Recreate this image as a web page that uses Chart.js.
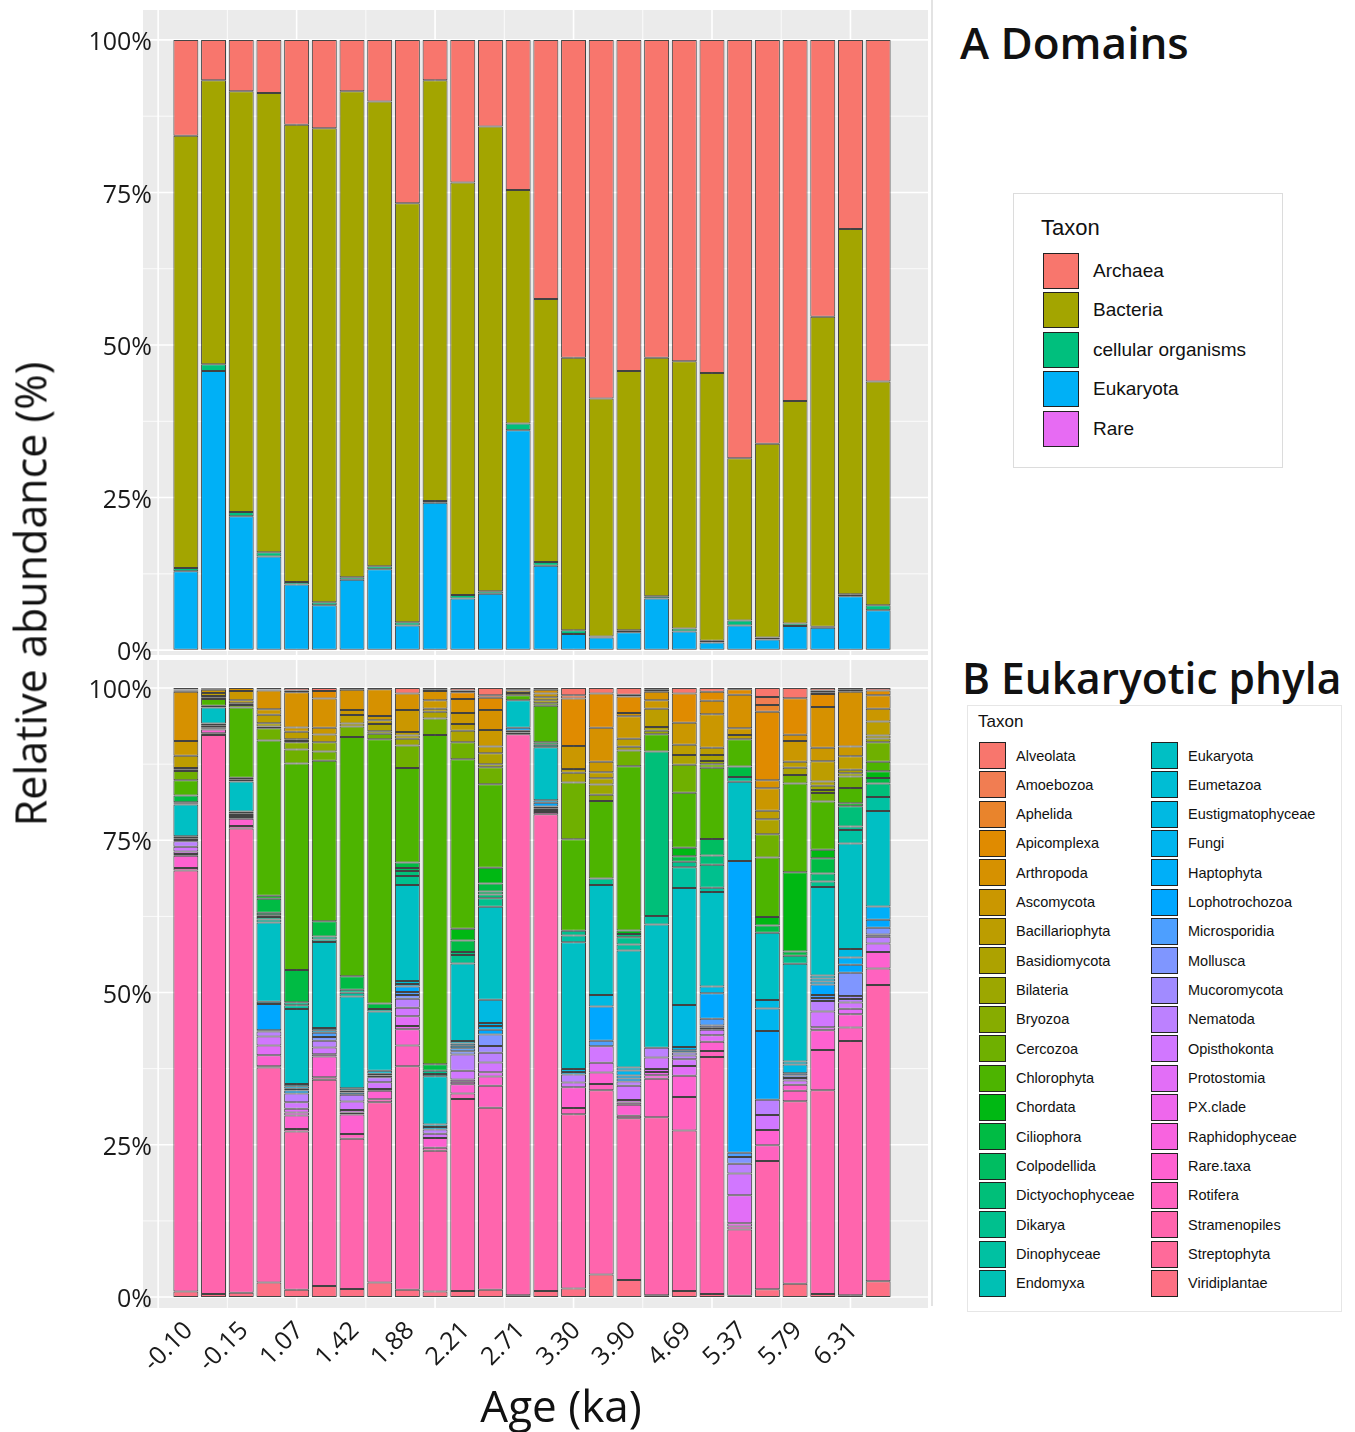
<!DOCTYPE html>
<html><head><meta charset="utf-8">
<script src="https://cdn.jsdelivr.net/npm/chart.js@4.4.0/dist/chart.umd.min.js"></script>
<style>
html,body{margin:0;padding:0;background:#fff;}
body{width:1355px;height:1432px;position:relative;overflow:hidden;font-family:"Open Sans",sans-serif;color:#111;}
.abs{position:absolute;}
#ytitle{left:30px;top:594px;transform:translate(-50%,-50%) rotate(-90deg);font-size:43px;white-space:nowrap;}
#xtitle{left:561px;top:1405px;transform:translate(-50%,-50%);font-size:44px;white-space:nowrap;}
.ptitle{font-weight:600;font-size:44px;white-space:nowrap;line-height:1;}
#sep{left:931px;top:0;width:2px;height:1306px;background:#e3e3e3;}
#legA{left:1013px;top:193px;width:268px;height:273px;border:1px solid #dcdcdc;background:#fff;}
#legB{left:967px;top:705px;width:373px;height:605px;border:1px solid #e6e6e6;background:#fff;}
.lt{font-family:"Liberation Sans",Arial,sans-serif;white-space:nowrap;}
.key{position:absolute;box-sizing:border-box;border:1.5px solid #222;}
</style></head>
<body>
<div id="wrapA" class="abs" style="left:0px;top:0px;width:935px;height:700px;"><canvas id="cA"></canvas></div>
<div id="wrapB" class="abs" style="left:0px;top:630px;width:935px;height:802px;"><canvas id="cB"></canvas></div>
<div id="sep" class="abs"></div>
<div id="ytitle" class="abs">Relative abundance (%)</div>
<div id="xtitle" class="abs">Age (ka)</div>
<div class="abs ptitle" style="left:960px;top:20px;">A Domains</div>
<div class="abs ptitle" style="left:962px;top:657px;font-size:42.5px;">B Eukaryotic phyla</div>
<div id="legA" class="abs"></div>
<div id="legB" class="abs"></div>
<script>
// ---------- categories ----------
const ageLabels = ["-0.10","","-0.15","","1.07","","1.42","","1.88","","2.21","","2.71","","3.30","","3.90","","4.69","","5.37","","5.79","","6.31",""];
const yTickValues = [0, 25, 50, 75, 100];

// ---------- Panel A: domains (%) ----------
const domainNames = ["Archaea","Bacteria","cellular organisms","Eukaryota","Rare"];
const archaea   = [15.7,6.6,8.4,8.7,13.9,14.5,8.4,10.1,26.8,6.6,23.4,14.2,24.6,42.5,52.1,58.8,54.3,52.1,52.7,54.6,68.6,66.2,59.2,45.4,31.0,56.0];
const bacteria  = [70.9,46.6,69.0,75.3,75.0,77.7,79.7,76.2,68.7,69.0,67.6,76.2,38.3,43.1,44.7,39.0,42.5,39.1,43.8,43.9,26.6,31.8,36.5,50.8,59.9,36.7];
const cellularOrganisms = [0.5,1.1,0.7,0.7,0.4,0.5,0.4,0.5,0.5,0.3,0.6,0.4,1.1,0.6,0.6,0.2,0.3,0.4,0.5,0.3,0.8,0.3,0.4,0.2,0.3,0.8];
const eukaryotaDomain = [12.9,45.7,21.9,15.3,10.7,7.3,11.5,13.2,4.0,24.1,8.4,9.2,36.0,13.8,2.6,2.0,2.9,8.4,3.0,1.2,4.0,1.7,3.9,3.6,8.8,6.5];
const rareDomain = [0.05,0.05,0.05,0.05,0.05,0.05,0.05,0.05,0.05,0.05,0.05,0.05,0.05,0.05,0.05,0.05,0.05,0.05,0.05,0.05,0.05,0.05,0.05,0.05,0.05,0.05];
const domainColors = ["#F8766D","#A3A500","#00BF7D","#00B0F6","#E76BF3"];

// ---------- Panel B: eukaryotic phyla (%) ----------
const phylaNames = ["Alveolata","Amoebozoa","Aphelida","Apicomplexa","Arthropoda","Ascomycota","Bacillariophyta","Basidiomycota","Bilateria","Bryozoa","Cercozoa","Chlorophyta","Chordata","Ciliophora","Colpodellida","Dictyochophyceae","Dikarya","Dinophyceae","Endomyxa","Eukaryota","Eumetazoa","Eustigmatophyceae","Fungi","Haptophyta","Lophotrochozoa","Microsporidia","Mollusca","Mucoromycota","Nematoda","Opisthokonta","Protostomia","PX.clade","Raphidophyceae","Rare.taxa","Rotifera","Stramenopiles","Streptophyta","Viridiplantae"];
const alveolata       = [0.2,0.1,0,0.2,0.4,0.5,0.3,0.2,0.9,0.3,0.4,1.2,0.2,0.3,1.2,0.9,1.1,0.3,0.9,0.6,0.2,1.5,1.7,0.4,0.3,0.4];
const amoebozoa       = [0.1,0,0,0.1,0.3,0,0,0,0,0.2,0.3,0.4,0,0,0.5,0,0.3,0,0,0,0,1.3,0,0.3,0.3,0];
const aphelida        = [0.1,0,0,0.1,0,0,0,0,0,0,0,0,0,0,0,0,0,0.3,0,0,0,1.1,0,0.3,0,0];
const apicomplexa     = [0.2,0,0,0,0,1.2,0,0,0,0,1.1,2.0,0,0,7.8,5.6,2.7,0,4.8,1.5,0.9,11.3,6.0,2.1,0,0.8];
const arthropoda      = [8.1,0.2,0.5,3.1,5.8,4.8,3.3,4.4,2.7,1.5,2.3,3.3,0.2,0.6,0,5.6,0.5,1.4,0,2.2,5.5,1.3,1.0,6.7,9.0,2.2];
const ascomycota      = [2.4,0.5,1.5,0.9,0.7,1.1,0.8,0.7,3.6,1.4,1.8,2.7,0.4,0.6,3.8,1.7,3.7,1.4,3.6,5.5,1.1,3.7,3.4,2.2,1.6,2.1];
const bacillariophyta = [2.0,0.5,0.5,1.4,1.2,1.3,1.4,0.6,0.6,0.5,1.1,1.1,0,0.5,0.6,1.0,1.3,3.0,1.7,1.2,0.7,1.4,1.0,3.3,2.2,2.3];
const basidiomycota   = [0.3,0.3,0.3,0.5,0.3,0,0.5,1.2,0.5,1.1,1.9,1.8,0.4,0.5,1.6,1.0,0.6,0.6,1.6,1.0,0,2.5,1.2,0.7,0.6,0.5];
const bilateria       = [0.2,0.2,0,0.3,0.2,0,0,0.4,1.1,0,0,0.5,0,0,0,1.7,0,0.6,0,0.5,0,0,0,0.7,0.5,0.6];
const bryozoa         = [0,0,0,0,1.2,1.5,0,0,0,0,0,0,0,0,0,1.0,0,0,0,0,0,0,0,0.5,0,0];
const cercozoa        = [1.5,0,0.4,2.0,2.3,1.5,1.7,0.9,3.7,2.7,2.8,2.8,0,0.4,9.3,0,2.6,0,4.6,0.6,0,3.8,1.4,1.4,1.9,3.2];
const chlorophyta     = [2.5,1.1,11.5,25.5,33.9,26.3,39.2,43.3,15.5,54.0,27.8,13.7,0.8,6.0,15.0,12.7,26.8,2.8,9.0,11.7,4.5,9.8,14.6,7.9,2.5,1.6];
const chordata        = [0,0,0,0.5,0,0,0,0,0,0,1.9,2.6,0,0,0,0,0.6,0,1.4,0,0,1.4,13.0,1.4,0.5,1.1];
const ciliophora      = [1.1,0,0.3,2.3,5.3,2.5,2.2,0.9,0.9,1.1,1.9,1.3,0,0.4,0,0,0,0,0.9,0,1.7,1.2,0.7,2.5,0,0.9];
const colpodellida    = [0.2,0,0,0.4,0,0,0,0,0.5,0,0,0.5,0,0,0,0,0,0,0,2.7,0,0,0,0,0,0];
const dictyochophyceae= [0.2,0,0,0.3,0,0,0,0,0.8,0,0.5,0.6,0,0,0,0,0.5,27.0,0,1.5,0,0,0,1.3,3.3,2.2];
const dikarya         = [0,0,0.3,0.4,0.5,0.5,0.5,0,1.5,0.5,1.4,1.4,0,0.4,0.8,1.1,1.2,0,0.9,3.8,0.8,0,1.3,0.9,0.6,0];
const dinophyceae     = [0,0,0,0.5,0.6,0.4,0.6,0.4,0,0.4,0,0,0,0,1.1,0,1.0,1.4,3.4,0.7,0,0,0,0,2.2,2.3];
const endomyxa        = [0,0.3,0,0,0,0,0,0,0,0,0,0,0,0,0,0,0,0,0,0,0,0,0,0,0,0];
const eukaryota       = [5.2,2.6,4.9,13.0,12.3,14.1,15.0,9.7,15.7,7.9,12.7,15.3,4.5,8.7,20.8,18.0,19.1,20.2,19.2,15.5,13.0,11.1,16.1,14.5,17.3,15.7];
const eumetazoa       = [0.3,0.3,0.3,0.4,0.4,0.4,0.4,0.5,0.5,0.4,0.4,0,0,0,0,0,0,0,0,0,0,0,0.5,0.5,0,0];
const eustigmatophyceae=[0,0,0,0,0,0,0,0,0,0,0,3.8,0,0,0.5,1.9,0.5,0,6.9,1.1,0,1.4,1.4,0.5,1.4,0];
const fungi           = [0.3,0.3,0,0,0.4,0.4,0.3,0.3,0.4,0.4,0.4,0.5,0,0,0.4,0,0.8,0,0.5,0,0,3.7,0,0.5,0,0];
const haptophyta      = [0.2,0.2,0.3,0,0.3,0,0,0,0,0,0.4,0.6,0,0.4,0,0,0.5,0,0.4,0,0,0,0,0,1.2,2.2];
const lophotrochozoa  = [0,0.2,0,4.3,0.5,0,0.4,0.3,0.9,0,0,0.8,0.5,0.6,0,5.6,0.5,0,0,4.2,47.9,11.3,0,1.7,1.3,1.3];
const microsporidia   = [0,0,0,0.2,0,0.7,0,0,0.5,0,0.5,0,0,0,0,0.9,0,0,0,1.1,0.7,0,0.4,0.5,0,0];
const mollusca        = [0,0,0,0,0,0.6,0,0,0.6,0,0.5,1.9,0.3,0.3,0,0,0,0,0,0.4,1.1,0,0.4,0.5,3.8,1.1];
const mucoromycota    = [0,0,0,0,0,0,0,0,0,0,0,1.1,0,0,0,0,0,0,0.5,0.3,0,0,0,0,0.5,0.4];
const nematoda        = [0.9,0,0.3,0.8,1.4,1.1,1.1,0.8,1.5,0.7,2.7,1.6,0.3,0.3,1.3,0,0.7,1.6,0.6,0,1.6,2.5,0.4,1.7,0.6,1.1];
const opisthokonta    = [0.8,0,0.3,1.5,1.1,1.1,1.4,1.1,1.4,0.7,1.4,1.6,0,0.3,0.8,2.7,2.3,1.9,1.1,0.9,3.6,2.5,0.7,2.6,1.0,1.4];
const protostomia     = [0.4,0,0,1.6,0.6,0.4,0.4,0.3,1.6,0,0.4,0.7,0,0,0,1.6,0.4,0.5,1.6,1.1,4.6,0,0,0.5,0.9,0];
const pxClade         = [0.3,0,0,0,0.5,0,0.3,0,0.5,0,0.4,0,0,0,0,0,0.4,0.5,0,0,0.5,0,0,0,0,0];
const raphidophyceae  = [0,0,0,0,0,0,0,0,0,0,0,0,0,0,0,0,0,0.6,0,0,0,0,0,0,0,0];
const rareTaxa        = [2.0,0.6,1.2,1.8,2.2,3.4,3.2,1.4,2.7,1.6,1.5,1.5,0,0.4,3.4,1.9,1.8,0,3.5,1.5,0.5,2.5,1.0,3.2,2.2,2.7];
const rotifera        = [0.4,0.3,0.4,0.2,0.4,0.4,0.8,0.5,3.4,0.5,0.9,3.6,0,0,1.0,1.0,0.4,6.3,5.5,1.0,0,2.6,1.7,6.6,2.2,2.7];
const stramenopiles   = [69.0,91.4,76.0,35.3,26.0,33.8,24.6,29.5,36.6,23.1,31.5,29.9,92.0,78.1,28.6,30.2,26.4,29.2,26.3,38.9,10.9,21.1,30.0,33.4,41.7,48.7];
const streptophyta    = [0,0,0,0,0,0,0,0,0,0,0,0,0,0,0,0,0,0,0,0,0,0,0,0,0,0];
const viridiplantae   = [0.9,0.5,0.7,2.4,1.2,1.8,1.3,2.4,1.2,0.9,1.0,1.2,0.3,1.0,1.4,3.7,2.8,0.3,1.0,0.5,0.2,1.3,2.2,0.5,0.3,2.6];

const domainSeries = [archaea, bacteria, cellularOrganisms, eukaryotaDomain, rareDomain];
const phylaSeries = [alveolata,amoebozoa,aphelida,apicomplexa,arthropoda,ascomycota,bacillariophyta,basidiomycota,bilateria,bryozoa,cercozoa,chlorophyta,chordata,ciliophora,colpodellida,dictyochophyceae,dikarya,dinophyceae,endomyxa,eukaryota,eumetazoa,eustigmatophyceae,fungi,haptophyta,lophotrochozoa,microsporidia,mollusca,mucoromycota,nematoda,opisthokonta,protostomia,pxClade,raphidophyceae,rareTaxa,rotifera,stramenopiles,streptophyta,viridiplantae];

// ---------- ggplot2 hue palette (hcl) ----------
function hcl(h, c, l) {
  const WY = 100, Wu = 0.1978398, Wv = 0.4683363;
  const hr = h * Math.PI / 180;
  const U = c * Math.cos(hr), V = c * Math.sin(hr);
  const Y = WY * (l > 7.999592 ? Math.pow((l + 16) / 116, 3) : l / 903.3);
  const u = U / (13 * l) + Wu, v = V / (13 * l) + Wv;
  const X = 9 * Y * u / (4 * v);
  const Z = -X / 3 - 5 * Y + 3 * Y / v;
  const g = t => t > 0.00304 ? 1.055 * Math.pow(t, 1 / 2.4) - 0.055 : 12.92 * t;
  const cl = t => Math.max(0, Math.min(255, Math.round(255 * g(t))));
  const r = cl((3.240479 * X - 1.537150 * Y - 0.498535 * Z) / WY);
  const gg = cl((-0.969256 * X + 1.875992 * Y + 0.041556 * Z) / WY);
  const b = cl((0.055648 * X - 0.204043 * Y + 1.057311 * Z) / WY);
  return `rgb(${r},${gg},${b})`;
}
const phylaColors = phylaNames.map((_, i) => hcl(15 + 360 * i / phylaNames.length, 100, 65));

// ---------- helpers ----------
function fillNormalize(series) {
  const n = series[0].length;
  const totals = Array.from({length: n}, (_, j) => series.reduce((s, arr) => s + arr[j], 0));
  return series.map(arr => arr.map((v, j) => v > 0 ? 100 * v / totals[j] : null));
}

const PANEL_LEFT = 143, PANEL_RIGHT = 928;
const panelBg = {
  id: 'panelBg',
  beforeDraw(chart) {
    const {ctx, chartArea: a, scales: {x, y}} = chart;
    ctx.save();
    ctx.fillStyle = '#EBEBEB';
    ctx.fillRect(PANEL_LEFT, a.top, PANEL_RIGHT - PANEL_LEFT, a.bottom - a.top);
    ctx.strokeStyle = '#FFFFFF';
    const hline = (v, w) => { const p = y.getPixelForValue(v); ctx.lineWidth = w; ctx.beginPath(); ctx.moveTo(PANEL_LEFT, p); ctx.lineTo(PANEL_RIGHT, p); ctx.stroke(); };
    const vline = (v, w) => { const p = x.getPixelForValue(v); if (p < PANEL_LEFT || p > PANEL_RIGHT) return; ctx.lineWidth = w; ctx.beginPath(); ctx.moveTo(p, a.top); ctx.lineTo(p, a.bottom); ctx.stroke(); };
    [12.5, 37.5, 62.5, 87.5].forEach(v => hline(v, 0.8));
    [1.5, 6.5, 11.5, 16.5, 21.5].forEach(v => vline(v, 0.8));
    yTickValues.forEach(v => hline(v, 1.6));
    [-1, 4, 9, 14, 19, 24].forEach(v => vline(v, 1.6));
    ctx.restore();
  }
};

const tickFont = {family: '"Open Sans", sans-serif', size: 25};

function makeChart(canvasId, wrapId, names, series, colors, opts) {
  const norm = fillNormalize(series);
  const datasets = names.map((nm, i) => ({
    label: nm, data: norm[i], backgroundColor: colors[i],
    borderColor: 'rgba(0,0,0,0.72)', borderWidth: 1, borderSkipped: false,
    barPercentage: 0.9, categoryPercentage: 1.0
  })).reverse();   // first level stacked on top, as in ggplot
  const chart = new Chart(document.getElementById(canvasId), {
    type: 'bar',
    data: {labels: ageLabels, datasets},
    plugins: [panelBg],
    options: {
      responsive: true, maintainAspectRatio: false, animation: false, devicePixelRatio: 1,
      layout: {padding: {top: 0, bottom: 0, left: 0, right: 43}},
      plugins: {legend: {display: false}, tooltip: {enabled: false}},
      scales: {
        x: {
          stacked: true, display: opts.showX,
          grid: {display: false}, border: {display: false},
          ticks: {autoSkip: false, maxRotation: 45, minRotation: 45, color: '#1a1a1a', font: tickFont, padding: 0, labelOffset: 3},
          afterFit: s => { s.height = opts.xHeight; }
        },
        y: {
          stacked: true, min: opts.yMin, max: opts.yMax,
          grid: {display: false, drawTicks: false}, border: {display: false},
          afterBuildTicks: s => { s.ticks = yTickValues.map(v => ({value: v})); },
          ticks: {callback: v => v + '%', color: '#1a1a1a', font: tickFont, padding: 20, labelOffset: 3},
          afterFit: s => { s.width = 172; }
        }
      }
    }
  });
  // move/resize the canvas so that the plotting panel sits where it does in the figure
  const wrap = document.getElementById(wrapId);
  for (let k = 0; k < 3; k++) {
    const a = chart.chartArea, H = chart.height;
    const wTop = parseFloat(wrap.style.top);
    const pageTop = wTop + a.top, pageBottom = wTop + a.bottom;
    if (Math.abs(pageTop - opts.areaTop) < 0.5 && Math.abs(pageBottom - opts.areaBottom) < 0.5) break;
    const newTop = opts.areaTop - a.top;
    const newH = opts.areaBottom + (H - a.bottom) - newTop;
    wrap.style.top = newTop + 'px';
    wrap.style.height = newH + 'px';
    chart.resize();
  }
  return chart;
}

makeChart('cA', 'wrapA', domainNames, domainSeries, domainColors,
  {showX: false, xHeight: 0, yMin: -0.8, yMax: 104.9, areaTop: 10, areaBottom: 655});
makeChart('cB', 'wrapB', phylaNames, phylaSeries, phylaColors,
  {showX: true, xHeight: 124, yMin: -1.8, yMax: 104.6, areaTop: 660, areaBottom: 1308});

// ---------- legends (HTML) ----------
(function () {
  const la = document.getElementById('legA');
  let h = '<div class="abs lt" style="left:27px;top:21px;font-size:22px;">Taxon</div>';
  domainNames.forEach((nm, i) => {
    const top = 59 + i * 39.4;
    h += `<div class="key" style="left:29px;top:${top}px;width:36px;height:36px;background:${domainColors[i]}"></div>`;
    h += `<div class="abs lt" style="left:79px;top:${top + 18}px;transform:translateY(-50%);font-size:19px;">${nm}</div>`;
  });
  la.innerHTML = h;
  const lb = document.getElementById('legB');
  let g = '<div class="abs lt" style="left:10px;top:6px;font-size:17px;">Taxon</div>';
  phylaNames.forEach((nm, i) => {
    const col = i < 19 ? 0 : 1, row = i % 19;
    const top = 36 + row * 29.33;
    const kx = col ? 183 : 11;
    g += `<div class="key" style="left:${kx}px;top:${top}px;width:27px;height:27px;border-width:1.2px;background:${phylaColors[i]}"></div>`;
    g += `<div class="abs lt" style="left:${kx + 37}px;top:${top + 13.5}px;transform:translateY(-50%);font-size:14.5px;">${nm}</div>`;
  });
  lb.innerHTML = g;
})();
</script>
</body></html>
